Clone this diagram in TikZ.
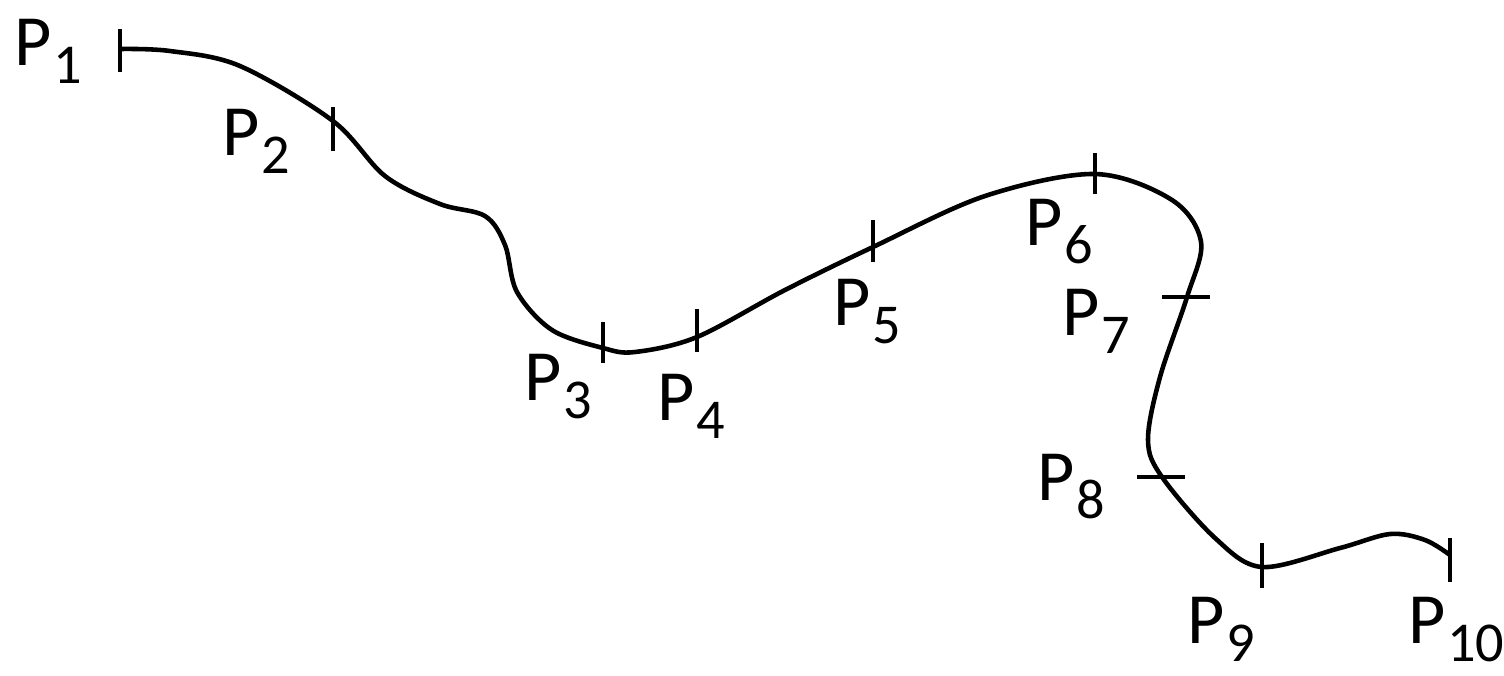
\documentclass[tikz,border=0pt]{standalone}
\usepackage{fontspec}
\setmainfont{Carlito}
\usepackage{tikz}
\usetikzlibrary{positioning}

\newcommand{\pname}[1]{P\kern0.02em\raisebox{-0.18cm}{\fontsize{16}{19}\selectfont #1}}

\begin{document}
\begin{tikzpicture}[
  x=0.01cm, y=-0.01cm,
  path/.style={line width=1.3pt, line join=round},
  tick/.style={line width=1.3pt},
  lbl/.style={font=\fontsize{20.5}{24}\selectfont, inner sep=0pt, anchor=base west}
]
\useasboundingbox (0,0) rectangle (1504,675);

% Points on the path
\coordinate (p1) at (120,49);
\coordinate (p2) at (333,121);
\coordinate (p3) at (603,348);
\coordinate (p4) at (697,337);
\coordinate (p5) at (873,247);
\coordinate (p6) at (1095,174);
\coordinate (p7) at (1187,297);
\coordinate (p8) at (1162,477);
\coordinate (p9) at (1262,567);
\coordinate (p10) at (1450,555);

% Path
\draw[path] plot[smooth, tension=0.55] coordinates {
  (p1) (170,51) (240,66)
  (p2) (385,176) (440,204) (485,216) (505,245) (517,292) (552,330)
  (p3) (635,352)
  (p4) (785,290)
  (p5) (985,196)
  (p6) (1172,200) (1201,242)
  (p7) (1160,377) (1148,440)
  (p8) (1215,538)
  (p9) (1340,548) (1390,534) (1425,540)
  (p10)};

% Ticks
\draw[tick] (p1) ++(0,-20) -- ++(0,43);
\draw[tick] (p2) ++(0,-14) -- ++(0,44);
\draw[tick] (p3) ++(0,-26) -- ++(0,41);
\draw[tick] (p4) ++(0,-28) -- ++(0,43);
\draw[tick] (p5) ++(0,-27) -- ++(0,42);
\draw[tick] (p6) ++(0,-21) -- ++(0,41);
\draw[tick] (p7) ++(-25,0) -- ++(48,0);
\draw[tick] (p8) ++(-25,0) -- ++(48,0);
\draw[tick] (p9) ++(0,-24) -- ++(0,45);
\draw[tick] (p10) ++(0,-17) -- ++(0,44);

% Labels
\node[lbl] (l1) at (14,65) {\pname{1}};
\node[lbl] (l2) at (222,155) {\pname{2}};
\node[lbl] (l3) at (524,400) {\pname{3}};
\node[lbl] (l4) at (657,420) {\pname{4}};
\node[lbl] (l5) at (833,325) {\pname{5}};
\node[lbl] (l6) at (1025,245) {\pname{6}};
\node[lbl] (l7) at (1062,335) {\pname{7}};
\node[lbl] (l8) at (1037,500) {\pname{8}};
\node[lbl] (l9) at (1187,643) {\pname{9}};
\node[lbl] (l10) at (1408,643) {\pname{10}};
\end{tikzpicture}
\end{document}
